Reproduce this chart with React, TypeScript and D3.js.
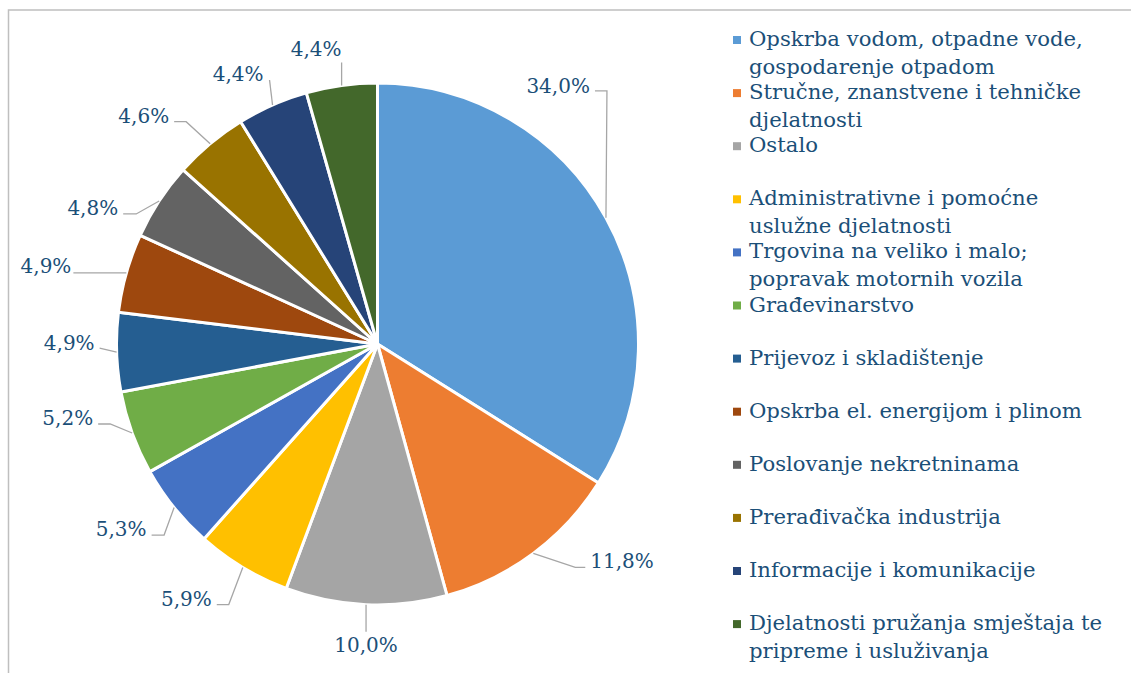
import React from "react";
import * as d3 from "d3";

const categories: string[][] = [
  ["Opskrba vodom, otpadne vode,", "gospodarenje otpadom"],
  ["Stručne, znanstvene i tehničke", "djelatnosti"],
  ["Ostalo"],
  ["Administrativne i pomoćne", "uslužne djelatnosti"],
  ["Trgovina na veliko i malo;", "popravak motornih vozila"],
  ["Građevinarstvo"],
  ["Prijevoz i skladištenje"],
  ["Opskrba el. energijom i plinom"],
  ["Poslovanje nekretninama"],
  ["Prerađivačka industrija"],
  ["Informacije i komunikacije"],
  ["Djelatnosti pružanja smještaja te", "pripreme i usluživanja"],
];

const values: number[] = [34.0, 11.8, 10.0, 5.9, 5.3, 5.2, 4.9, 4.9, 4.8, 4.6, 4.4, 4.4];

const colors: string[] = [
  "#5B9BD5", "#ED7D31", "#A5A5A5", "#FFC000", "#4472C4", "#70AD47",
  "#255E91", "#9E480E", "#636363", "#997300", "#264478", "#43682B",
];

// label leader layout (manual label placement, relative to slice midpoint on the arc)
type LL = { ex: number; ey: number; stub: number; anchor: "start" | "middle" | "end"; tdx: number; tdy: number };
const labelLayout: LL[] = [
  { ex: 1, ey: -127, stub: -12, anchor: "end", tdx: -5, tdy: 2 },
  { ex: 42, ey: 14, stub: 10, anchor: "start", tdx: 5, tdy: 1 },
  { ex: 0, ey: 27, stub: 0, anchor: "middle", tdx: 0, tdy: 20 },
  { ex: -14, ey: 37, stub: -12, anchor: "end", tdx: -5, tdy: 1 },
  { ex: -10, ey: 27.5, stub: -12.5, anchor: "end", tdx: -5, tdy: 1 },
  { ex: -22, ey: -9, stub: -12, anchor: "end", tdx: -5, tdy: 1 },
  { ex: -17, ey: -4, stub: 0, anchor: "end", tdx: -5, tdy: 2 },
  { ex: -40, ey: 0, stub: -13, anchor: "end", tdx: -2, tdy: 0 },
  { ex: -23, ey: 13, stub: -13, anchor: "end", tdx: -5, tdy: 1 },
  { ex: -24, ey: -22, stub: -12, anchor: "end", tdx: -5, tdy: 1 },
  { ex: -3, ey: -25, stub: 0, anchor: "end", tdx: -6, tdy: 1 },
  { ex: 0, ey: -23, stub: 0, anchor: "end", tdx: 0, tdy: -6 },
];

const W = 1131;
const H = 673;
const cx = 377.5;
const cy = 344;
const R = 261;
const TEXT = "#1B4F78";
const FONT = "'DejaVu Serif', serif";

export default function App() {
  const pie = d3
    .pie<number>()
    .sort(null)
    .value((d) => d)
    .startAngle(0)
    .endAngle(2 * Math.PI);
  const arcs = pie(values);
  const arc = d3.arc<d3.PieArcDatum<number>>().innerRadius(0).outerRadius(R);

  const fmt = (v: number) => v.toFixed(1).replace(".", ",") + "%";

  const legendX = 733;
  const legendY0 = 46;
  const legendStep = 53.1;
  const lineH = 28;

  return (
    <svg
      width={W}
      height={H}
      style={{ position: "absolute", left: 0, top: 0, display: "block", background: "#fff" }}
      fontFamily={FONT}
    >
      <rect x={8.5} y={10} width={W + 20} height={H + 20} fill="#fff" stroke="#BFBFBF" strokeWidth={1.5} />
      <g transform={`translate(${cx},${cy})`}>
        {arcs.map((a, i) => (
          <path key={i} d={arc(a) || ""} fill={colors[i]} stroke="#fff" strokeWidth={3} strokeLinejoin="round" />
        ))}
      </g>
      {arcs.map((a, i) => {
        const mid = (a.startAngle + a.endAngle) / 2;
        const mx = cx + R * Math.sin(mid);
        const my = cy - R * Math.cos(mid);
        const L = labelLayout[i];
        const ex = mx + L.ex;
        const ey = my + L.ey;
        const sx = ex + L.stub;
        const pts: [number, number][] = [[mx, my], [ex, ey]];
        if (L.stub !== 0) pts.push([sx, ey]);
        const line = d3.line()(pts) || "";
        return (
          <g key={"l" + i}>
            <path d={line} fill="none" stroke="#A6A6A6" strokeWidth={1.3} />
            <text x={sx + L.tdx} y={ey + L.tdy} textAnchor={L.anchor} fontSize={20} fill={TEXT}>
              {fmt(values[i])}
            </text>
          </g>
        );
      })}
      {categories.map((lines, i) => {
        const by = legendY0 + i * legendStep;
        return (
          <g key={"g" + i}>
            <rect x={legendX} y={by - 10} width={8} height={8} fill={colors[i]} />
            {lines.map((t, j) => (
              <text key={j} x={legendX + 16} y={by + j * lineH} fontSize={21.2} fill={TEXT}>
                {t}
              </text>
            ))}
          </g>
        );
      })}
    </svg>
  );
}
